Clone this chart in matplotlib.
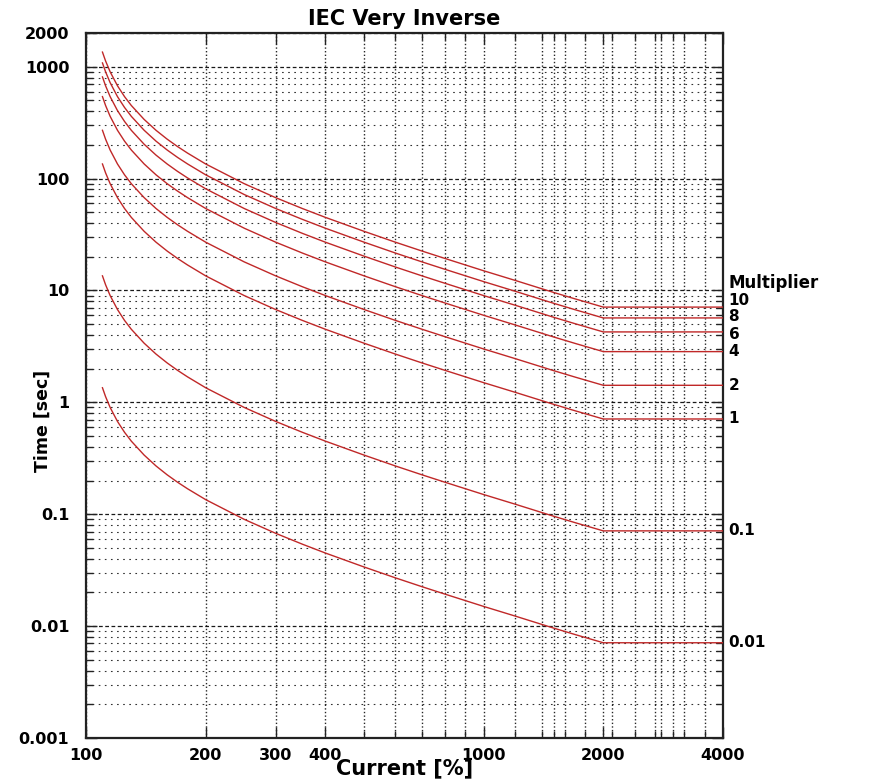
import matplotlib
matplotlib.use("Agg")
import matplotlib.pyplot as plt
from matplotlib.ticker import FixedLocator, FixedFormatter, NullFormatter
import numpy as np

# Current in percent of pickup
current_pct = [110, 112, 115, 120, 125, 130, 140, 150, 160, 170, 180, 200,
               250, 300, 350, 400, 500, 600, 700, 800, 1000, 1200, 1500,
               1700, 2000, 4000]

# Trip time in seconds for time multiplier 1
base_time = [135, 112.5, 90, 67.5, 54, 45, 33.8, 27, 22.5, 19.3, 16.9, 13.5,
             9.0, 6.75, 5.4, 4.5, 3.38, 2.7, 2.25, 1.93, 1.5, 1.23, 0.96,
             0.84, 0.71, 0.71]

# Time multiplier settings
multipliers = [10, 8, 6, 4, 2, 1, 0.1, 0.01]

x_tick_values = [100, 200, 300, 400, 1000, 2000, 4000]
x_tick_labels = ["100", "200", "300", "400", "1000", "2000", "4000"]
x_minor_values = [500, 600, 700, 800, 900, 1200, 1400, 1500, 1600, 1800,
                  2100, 2400, 2700, 2800, 3000, 3200, 3600]

y_tick_values = [0.001, 0.01, 0.1, 1, 10, 100, 1000, 2000]
y_tick_labels = ["0.001", "0.01", "0.1", "1", "10", "100", "1000", "2000"]

BOLD = dict(family="DejaVu Sans", weight="bold")
CURVE_COLOR = "#c02828"

fig = plt.figure(figsize=(8.74, 7.82), dpi=100)
ax = fig.add_axes([86 / 874, 44 / 782, 637 / 874, 705 / 782])

cur = np.array(current_pct, dtype=float)
base = np.array(base_time, dtype=float)
for m in multipliers:
    ax.plot(cur, m * base, color=CURVE_COLOR, lw=1.0, zorder=3)

ax.set_xscale("log")
ax.set_yscale("log")
ax.set_xlim(100, 4000)
ax.set_ylim(0.001, 2000)

# x axis ticks
ax.xaxis.set_major_locator(FixedLocator(x_tick_values))
ax.xaxis.set_major_formatter(FixedFormatter(x_tick_labels))
ax.xaxis.set_minor_locator(FixedLocator(x_minor_values))
ax.xaxis.set_minor_formatter(NullFormatter())

# y axis ticks
ax.yaxis.set_major_locator(FixedLocator(y_tick_values))
ax.yaxis.set_major_formatter(FixedFormatter(y_tick_labels))
y_minor = [k * 10.0 ** e for e in range(-3, 3) for k in range(2, 10)]
ax.yaxis.set_minor_locator(FixedLocator(y_minor))
ax.yaxis.set_minor_formatter(NullFormatter())

ax.tick_params(which="both", direction="in", top=True, right=True,
               color="#222222", width=1.0)
ax.tick_params(which="major", length=8)
ax.tick_params(which="minor", length=5)
ax.tick_params(axis="x", which="major", pad=7, labelsize=11.5)
ax.tick_params(axis="y", which="major", pad=12, labelsize=11.5)
for lab in ax.get_xticklabels() + ax.get_yticklabels():
    lab.set_fontweight("bold")
    lab.set_family("DejaVu Sans")

# grid lines
ax.grid(axis="x", which="both", color="black", lw=1.0,
        linestyle=(0, (1, 1.6)), alpha=0.85, zorder=1)
ax.grid(axis="y", which="major", color="black", lw=0.9,
        linestyle=(0, (3, 2)), alpha=0.9, zorder=1)
ax.grid(axis="y", which="minor", color="black", lw=0.8,
        linestyle=(0, (1.5, 4)), alpha=0.8, zorder=1)

for sp in ax.spines.values():
    sp.set_linewidth(1.6)
    sp.set_color("#222222")

ax.set_title("IEC Very Inverse", fontsize=15, pad=6, **BOLD)
ax.set_xlabel("Current [%]", fontsize=15, labelpad=-3, **BOLD)
ax.set_ylabel("Time [sec]", fontsize=12.5, **BOLD)
ax.yaxis.set_label_coords(-0.054, 0.45)

# multiplier labels at the right end of each curve; the closely spaced
# upper ones get a small vertical nudge (in points) to stay readable
nudge = {10: 5.0, 8: 1.0, 6: -1.5}
for m in multipliers:
    ax.annotate(f"{m:g}", xy=(1, m * base[-1]),
                xycoords=("axes fraction", "data"),
                xytext=(4, nudge.get(m, 0.0)), textcoords="offset points",
                ha="left", va="center", fontsize=11, **BOLD)
ax.annotate("Multiplier", xy=(1, 10), xycoords=("axes fraction", "data"),
            xytext=(4, 5.4), textcoords="offset points",
            ha="left", va="center", fontsize=12, **BOLD)

fig.savefig("out.png", dpi=100)
